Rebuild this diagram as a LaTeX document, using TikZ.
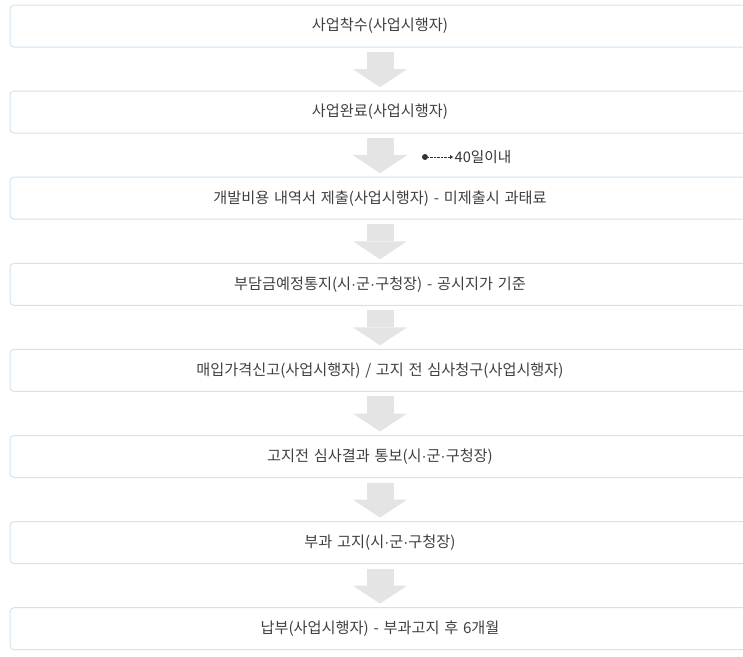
\documentclass[tikz,border=0pt]{standalone}
\usepackage{fontspec}
\setmainfont{Noto Sans CJK KR}[WordSpace=1.4]
\newfontfamily\dotfont{Liberation Sans}
\newcommand\md{{\dotfont ·}}
\usetikzlibrary{positioning,arrows.meta}
\definecolor{boxline}{HTML}{CFE4F1}
\definecolor{flowgray}{HTML}{E4E4E4}
\definecolor{textgray}{HTML}{404040}
\definecolor{notegray}{HTML}{333333}
\tikzset{stage/.style={draw=boxline,line width=1pt,rounded corners=4pt,minimum width=740pt,minimum height=42pt,outer sep=0pt,text=textgray,font=\fontsize{15.2}{18}\selectfont},
    flow/.style={draw=flowgray,line width=27pt,-{Triangle[length=18pt,width=54pt,line width=0pt]},shorten <=5pt,shorten >=4pt}}

\begin{document}
\begin{tikzpicture}[node distance=44.1pt]
        \useasboundingbox (0,0) rectangle (743pt,-656pt);
        \clip (0,0) rectangle (743pt,-656pt);
        \node[stage] (start) at (380pt,-26pt) {사업착수(사업시행자)};
        \node[stage,below=of start] (done) {사업완료(사업시행자)};
        \node[stage,below=of done] (cost) {개발비용 내역서 제출(사업시행자) - 미제출시 과태료};
        \node[stage,below=of cost] (notice) {부담금예정통지(시\md 군\md 구청장) - 공시지가 기준};
        \node[stage,below=of notice] (report) {매입가격신고(사업시행자) / 고지 전 심사청구(사업시행자)};
        \node[stage,below=of report] (review) {고지전 심사결과 통보(시\md 군\md 구청장)};
        \node[stage,below=of review] (levy) {부과 고지(시\md 군\md 구청장)};
        \node[stage,below=of levy] (pay) {납부(사업시행자) - 부과고지 후 6개월};
        \draw[flow] (start) -- (done);
        \draw[flow] (done) -- (cost);
        \draw[flow] (cost) -- (notice);
        \draw[flow] (notice) -- (report);
        \draw[flow] (report) -- (review);
        \draw[flow] (review) -- (levy);
        \draw[flow] (levy) -- (pay);
        \node[circle,fill=notegray,inner sep=0pt,minimum size=6pt] (dot) at (425pt,-157pt) {};
        \node[anchor=west,inner sep=1.5pt,text=notegray,font=\fontsize{14.6}{17}\selectfont] (due) at (453pt,-157pt) {40일이내};
        \draw[notegray,densely dotted,-{Triangle[length=3pt,width=4pt]}] (dot) -- (due);
\end{tikzpicture}
\end{document}
